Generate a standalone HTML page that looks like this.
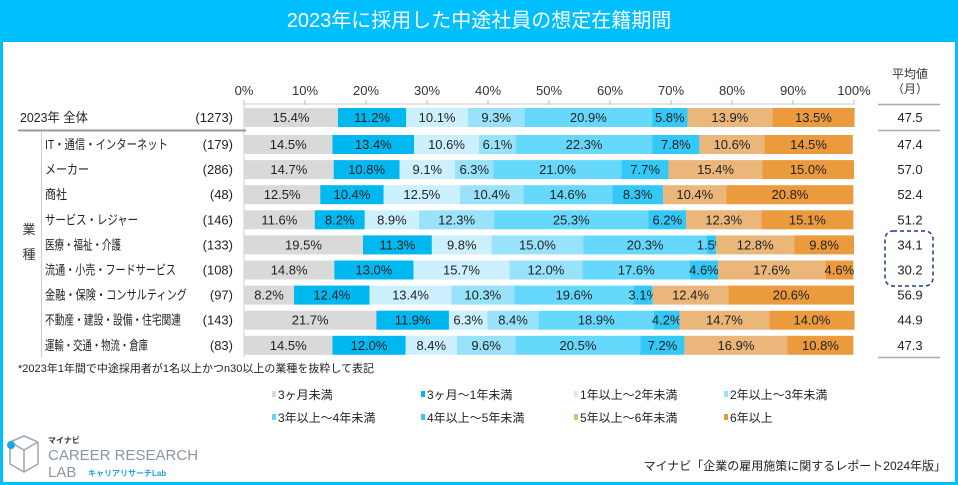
<!DOCTYPE html>
<html><head><meta charset="utf-8">
<style>
body{margin:0;width:958px;height:485px;overflow:hidden;background:#fff;font-family:"Liberation Sans","Noto Sans CJK JP",sans-serif;}
#frame{position:absolute;left:0;top:0;width:952px;height:479px;border:3px solid #00bfff;}
#header{position:absolute;left:0;top:0;width:958px;height:42px;background:#00bfff;color:#fff;font-size:20px;text-align:center;line-height:42px;}
svg{position:absolute;left:0;top:0;}
svg text{font-family:"Liberation Sans","Noto Sans CJK JP",sans-serif;}
</style></head><body>
<div id="frame"></div>
<div id="header">2023年に採用した中途社員の想定在籍期間</div>
<svg id="chart" width="958" height="485"></svg>
<script>
const categories=["2023年 全体","IT・通信・インターネット","メーカー","商社","サービス・レジャー","医療・福祉・介護","流通・小売・フードサービス","金融・保険・コンサルティング","不動産・建設・設備・住宅関連","運輸・交通・物流・倉庫"];
const counts=["(1273)","(179)","(286)","(48)","(146)","(133)","(108)","(97)","(143)","(83)"];
const averages=["47.5","47.4","57.0","52.4","51.2","34.1","30.2","56.9","44.9","47.3"];
const seriesNames=["3ヶ月未満","3ヶ月～1年未満","1年以上～2年未満","2年以上～3年未満","3年以上～4年未満","4年以上～5年未満","5年以上～6年未満","6年以上"];
const s1=[15.4,14.5,14.7,12.5,11.6,19.5,14.8,8.2,21.7,14.5];
const s2=[11.2,13.4,10.8,10.4,8.2,11.3,13.0,12.4,11.9,12.0];
const s3=[10.1,10.6,9.1,12.5,8.9,9.8,15.7,13.4,6.3,8.4];
const s4=[9.3,6.1,6.3,10.4,12.3,15.0,12.0,10.3,8.4,9.6];
const s5=[20.9,22.3,21.0,14.6,25.3,20.3,17.6,19.6,18.9,20.5];
const s6=[5.8,7.8,7.7,8.3,6.2,1.5,4.6,3.1,4.2,7.2];
const s7=[13.9,10.6,15.4,10.4,12.3,12.8,17.6,12.4,14.7,16.9];
const s8=[13.5,14.5,15.0,20.8,15.1,9.8,4.6,20.6,14.0,10.8];
const ticks=[0,10,20,30,40,50,60,70,80,90,100];
const series=[s1,s2,s3,s4,s5,s6,s7,s8];
const colors=["#d9d9d9","#00b8f0","#cdf0ff","#99e2fb","#66d8fc","#33c8f6","#ebb67a","#eb9a3e"];

const svg=document.getElementById('chart');
const NS="http://www.w3.org/2000/svg";
const X0=244,X1=854;
const x=v=>X0+(X1-X0)*v/100;
const rowY=i=>i===0?117:144+(i-1)*25.1;
function mk(tag,attrs,txt){const e=document.createElementNS(NS,tag);for(const k in attrs)e.setAttribute(k,attrs[k]);if(txt!==undefined)e.textContent=txt;svg.appendChild(e);return e;}
function fit(e,target){const w=e.getComputedTextLength();if(w>target){e.setAttribute('textLength',target);e.setAttribute('lengthAdjust','spacingAndGlyphs');}}

ticks.forEach(t=>{
  const lbl=mk('text',{x:x(t),y:95,'text-anchor':'middle','font-size':13,fill:'#333'},t+'%');
  
  
  const tk=mk('line',{x1:x(t),x2:x(t),y1:100,y2:105,stroke:'#bbb'});
  
  
});
const ax=mk('line',{x1:X0,x2:X1,y1:104,y2:104,stroke:'#ccc'});


const ax2=mk('line',{x1:X0,x2:X0,y1:104,y2:357,stroke:'#ccc'});



const sep=mk('line',{x1:18,x2:246,y1:130.5,y2:130.5,stroke:'#999','stroke-width':2});


const vl=mk('line',{x1:41.5,x2:41.5,y1:132,y2:358,stroke:'#ccc'});


[104.5,130.5,357.5].forEach(yy=>{
  const l=mk('line',{x1:878,x2:940,y1:yy,y2:yy,stroke:'#aaa','stroke-width':1.5});
  
  
});
const hd1=mk('text',{x:910,y:78,'text-anchor':'middle','font-size':12,fill:'#333'},'平均値');


const hd2=mk('text',{x:910,y:93,'text-anchor':'middle','font-size':12,fill:'#333'},'（月）');


const gy=mk('text',{x:29,y:234,'text-anchor':'middle','font-size':13,fill:'#333'},'業');


const gy2=mk('text',{x:29,y:259,'text-anchor':'middle','font-size':13,fill:'#333'},'種');



categories.forEach((c,i)=>{
  const cy=rowY(i);
  const cl=mk('text',{x:i===0?20:45,y:cy+5,'font-size':13,fill:'#222'},c);
  
  
  let tw=0;for(const ch of c){tw+=ch==='・'?5:(/[\x00-\x7f]/.test(ch)?7:11);}
  fit(cl,tw);
  const nl=mk('text',{x:233,y:cy+5,'text-anchor':'end','font-size':13,fill:'#222'},counts[i]);
  
  
  const al=mk('text',{x:910,y:cy+5,'text-anchor':'middle','font-size':13,fill:'#222'},averages[i]);
  
  
  let acc=0;
  series.forEach((s,j)=>{
    const v=s[i];
    const r=mk('rect',{x:x(acc),y:cy-9,width:x(acc+v)-x(acc),height:19,fill:colors[j]});
    
    
    const t=mk('text',{x:(x(acc)+x(acc+v))/2,y:cy+5,'text-anchor':'middle','font-size':13,fill:'#222'},v.toFixed(1)+'%');
    
    
    acc+=v;
  });
});
const box=mk('rect',{x:885,y:231,width:48,height:55,rx:8,fill:'none',stroke:'#1f3f7a','stroke-width':1.5,'stroke-dasharray':'4,3'});



const fn=mk('text',{x:18,y:372,'font-size':11,fill:'#222'},'*2023年1年間で中途採用者が1名以上かつn30以上の業種を抜粋して表記');



seriesNames.forEach((n,j)=>{
  const lx=[272,421,574,724][j%4], ly=j<4?395:418;
  const m=mk('rect',{x:lx,y:ly-4,width:4,height:6,fill:colors[j]});
  
  
  const t=mk('text',{x:lx+6,y:ly+4,'font-size':12,fill:'#222'},n);
  
  
});

const src=mk('text',{x:946,y:470,'text-anchor':'end','font-size':12,fill:'#222'},'マイナビ「企業の雇用施策に関するレポート2024年版」');



const lg=mk('path',{d:'M10 442 L24 436 L38 442 L38 464 L24 472 L10 464 Z M10 442 L24 450 L38 442 M24 450 L24 472',fill:'none',stroke:'#9aa7b3','stroke-width':1.5});


const lc=mk('circle',{cx:11,cy:445,r:4,fill:'#1aa6e0'});


const l1=mk('text',{x:48,y:443,'font-size':8,'font-weight':'bold',fill:'#333'},'マイナビ');


const l2=mk('text',{x:48,y:460,'font-size':15,fill:'#8a96a3'},'CAREER RESEARCH');


const l3=mk('text',{x:48,y:477,'font-size':15,fill:'#8a96a3'},'LAB');


const l4=mk('text',{x:88,y:476,'font-size':8,'font-weight':'bold',fill:'#1aa6e0'},'キャリアリサーチLab');


</script>
</body></html>
